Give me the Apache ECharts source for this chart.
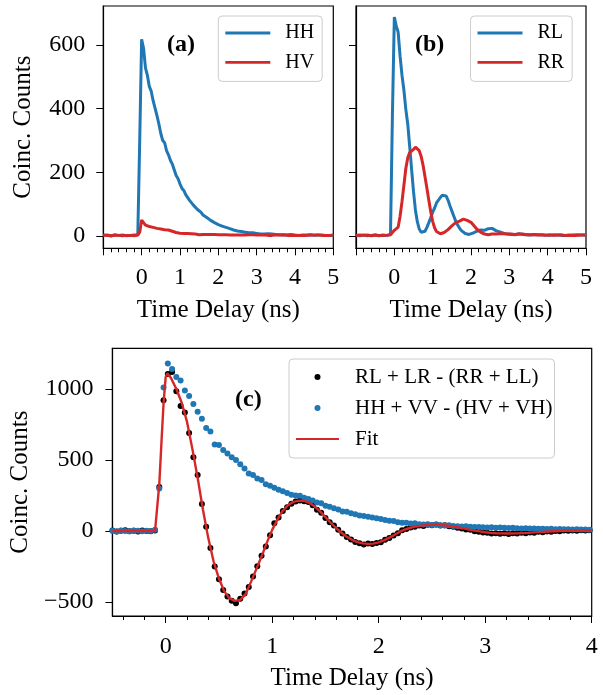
<!DOCTYPE html>
<html><head><meta charset="utf-8">
<script src="https://cdn.jsdelivr.net/npm/echarts@6/dist/echarts.min.js"></script>
<style>html,body{margin:0;padding:0;background:#fff}#c{width:603px;height:695px}</style>
</head><body><div id="c"></div>
<script>
// ---------- data (top panels: uniform time grid -1 .. 5 ns, step 0.05 ns) ----------
const tStartAB = -1, tStepAB = 0.05;
const hh = [3,1,2,4,0,2,3,1,2,0,3,2,1,4,2,1,3,2,4,300,
  618,590,528,505,470,455,425,402,378,352,322,300,293,268,255,238,226,208,190,180,
  164,150,143,130,124,112,108,97,92,84,78,74,66,62,58,52,49,44,42,38,
  36,35,31,29,27,25,23,22,19,18,16,17,14,13,12,13,10,9,10,8,
  8,7,6,8,6,5,7,5,6,4,5,6,4,5,3,5,4,3,5,4,3,4,2,4,3,5,3,2,4,3,2,4,3,2,3,4,2,3,2,3,2];
const hv = [2,1,3,2,1,2,3,1,2,2,1,3,2,1,2,3,1,2,3,12,
  50,46,34,28,30,25,27,23,24,21,22,19,20,22,19,17,15,13,11,10,
  9,10,8,7,8,6,7,
  5,6,5,4,6,5,4,5,3,5,4,5,3,4,5,4,3,4,5,3,4,3,4,3,5,3,4,3,2,4,
  3,4,2,3,4,3,2,3,4,2,3,2,4,3,2,3,2,4,3,2,3,2,3,2,4,2,3,2,3,2,
  2,3,2,3,2,3,2,2,3,2,3,2,2,3];
const rl = [2,3,1,2,3,2,1,3,2,2,3,1,2,3,2,1,2,3,5,380,
  688,660,640,565,505,458,398,352,282,210,140,82,45,22,12,9,15,27,42,58,
  75,88,104,110,121,128,134,126,113,95,79,63,47,35,25,17,11,8,6,5,
  7,9,12,15,16,19,21,18,22,23,20,24,19,17,16,13,10,9,7,6,
  6,5,6,4,5,7,4,5,3,4,5,3,4,5,3,4,2,4,3,3,4,2,3,4,2,3,3,2,4,2,3,3,2,3,2,4,2,3,2,3,2];
const rr = [2,1,3,2,2,1,3,2,1,2,3,2,1,2,3,1,2,2,4,9,
  18,13,28,62,108,160,212,246,262,266,272,279,280,268,250,222,186,150,112,76,
  46,26,14,9,7,8,11,14,20,26,32,38,42,45,47,50,53,54,49,47,
  43,36,29,22,16,12,8,6,5,4,5,6,7,6,8,7,9,7,8,6,
  7,6,8,5,7,6,4,6,5,4,5,4,3,5,4,3,4,3,4,2,3,4,3,2,3,3,2,4,3,2,3,2,3,2,3,2,2,3,2,3,2];

// ---------- data (panel c: uniform time grid -0.5 .. 3.98 ns, step 0.04 ns) ----------
const tStartC = -0.5, tStepC = 0.04;
const circDiff = [3,-4,2,5,-2,1,-3,4,0,-2,3,310,920,1105,1120,985,880,835,690,520,
  395,190,30,-120,-250,-340,-415,-462,-492,-508,-478,-440,-395,-320,-248,-175,-110,-30,55,95,
  140,168,192,208,215,210,205,182,150,128,92,62,38,8,-18,-42,-60,-78,-86,-95,
  -88,-92,-85,-80,-62,-50,-32,-15,5,14,25,30,38,36,44,40,45,38,40,33,
  30,22,18,10,8,-2,-5,-10,-12,-18,-15,-20,-16,-22,-15,-18,-12,-15,-10,-12,
  -6,-8,-3,-5,0,-2,3,1,4,2,5,3,6];
const linDiff = [2,-3,4,0,-2,3,1,-1,2,0,8,300,1010,1180,1140,1085,1060,990,950,895,
  840,790,725,700,610,605,570,545,520,500,470,440,405,395,370,360,330,318,305,290,
  280,268,255,250,248,235,225,215,200,195,178,170,160,152,138,135,125,118,110,105,
  100,95,90,85,78,72,70,62,58,58,52,55,48,46,48,42,44,40,38,40,
  35,34,32,33,30,28,29,26,25,27,23,24,22,21,22,20,18,19,17,18,
  15,16,14,15,13,14,12,13,11,12,10,11,9];
const fitT = [-0.5,-0.3,-0.1,-0.085,-0.06,-0.04,-0.02,0,0.015,0.03,0.05,0.1,0.15,0.2,0.25,0.3,0.35,0.4,0.45,0.5,
  0.55,0.6,0.65,0.7,0.75,0.8,0.85,0.9,0.95,1.0,1.05,1.1,1.15,1.2,1.25,1.3,1.35,1.4,1.45,1.5,
  1.55,1.6,1.65,1.7,1.75,1.8,1.85,1.9,1.95,2.0,2.05,2.1,2.15,2.2,2.25,2.3,2.35,2.4,2.45,2.5,
  2.55,2.6,2.65,2.7,2.75,2.8,2.85,2.9,2.95,3.0,3.05,3.1,3.15,3.2,3.3,3.4,3.5,3.6,3.7,3.8,3.9,4.0];
const fitV = [0,0,0,2,330,620,900,1085,1110,1100,1078,1000,905,770,580,375,150,-50,-215,-335,
  -425,-475,-492,-485,-445,-360,-270,-180,-82,8,82,143,183,205,214,212,198,172,138,98,
  58,21,-12,-40,-62,-78,-87,-91,-89,-80,-66,-47,-26,-5,11,23,32,38,42,43,
  43,41,37,32,25,18,10,3,-3,-9,-13,-16,-17,-18,-17,-13,-8,-4,0,3,4,5];

// ---------- tick values ----------
const xTicksAB = [0,1,2,3,4,5];
const yTicksAB = [0,200,400,600];
const xTicksC = [0,1,2,3,4];
const xMinorC = [-0.4,-0.2,0.2,0.4,0.6,0.8,1.2,1.4,1.6,1.8,2.2,2.4,2.6,2.8,3.2,3.4,3.6,3.8];
const yTicksC = [-500,0,500,1000];

const FONT = '"Liberation Serif", "Times New Roman", serif';
const BLUE = '#1f77b4', RED = '#d62728';
const LINE_ICON_AB = 'path://M0,0 L45,0 L45,2.8 L0,2.8 Z';
const LINE_ICON_C = 'path://M0,0 L43,0 L43,2.2 L0,2.2 Z';

function pairs(start, step, vals){ return vals.map((v,i)=>[+(start+i*step).toFixed(4), v]); }

const grids = [
  {left:103.3, top:6, width:230, height:242.3},
  {left:356, top:6, width:230, height:242.3},
  {left:106.7, top:348.3, width:485, height:267.7}
].map(g=>Object.assign(g,{show:true,borderColor:'#000',borderWidth:1.2,backgroundColor:'transparent',containLabel:false}));

const tickLbl = {color:'#000', fontFamily:FONT, fontSize:24};
const nameStyle = {color:'#000', fontFamily:FONT, fontSize:25};
const axLine = {show:true, onZero:false, lineStyle:{color:'#000', width:1.2}};

function xAB(gi){
  return {type:'value', gridIndex:gi, min:-1, max:5, interval:1,
    axisLine:axLine,
    axisTick:{show:true, length:7, lineStyle:{color:'#000', width:1}},
    minorTick:{show:true, splitNumber:5, length:4, lineStyle:{color:'#000', width:1}},
    axisLabel:Object.assign({margin:17, formatter:v=> (xTicksAB.indexOf(v)>=0 ? String(v) : '')}, tickLbl),
    splitLine:{show:false}, minorSplitLine:{show:false},
    name:'Time Delay (ns)', nameLocation:'middle', nameGap:50, nameTextStyle:nameStyle};
}
function yAB(gi, showLabel){
  const o = {type:'value', gridIndex:gi, min:-38.6, max:722.6,
    axisLine:axLine,
    axisTick:{show:true, length:7, lineStyle:{color:'#000', width:1}, customValues:yTicksAB},
    axisLabel:Object.assign({show:showLabel, margin:18, customValues:yTicksAB}, tickLbl),
    splitLine:{show:false}};
  if (showLabel){ Object.assign(o,{name:'Coinc. Counts', nameLocation:'middle', nameGap:67, nameTextStyle:nameStyle}); }
  return o;
}
const legendBase = {orient:'vertical', backgroundColor:'rgba(255,255,255,0.8)', borderColor:'#cccccc', borderWidth:1, borderRadius:4};

const option = {
  animation:false,
  backgroundColor:'#fff',
  grid: grids,
  xAxis: [
    xAB(0), xAB(1),
    {type:'value', gridIndex:2, min:-0.5, max:4, position:'bottom',
      axisLine:axLine,
      axisTick:{show:true, length:7, lineStyle:{color:'#000', width:1}, customValues:xTicksC},
      axisLabel:Object.assign({margin:19, customValues:xTicksC}, tickLbl),
      splitLine:{show:false},
      name:'Time Delay (ns)', nameLocation:'middle', nameGap:50, nameTextStyle:nameStyle},
    {type:'value', gridIndex:2, min:-0.5, max:4, position:'bottom',
      axisLine:{show:false, onZero:false},
      axisTick:{show:true, length:4, lineStyle:{color:'#000', width:1}, customValues:xMinorC},
      axisLabel:{show:false}, splitLine:{show:false}}
  ],
  yAxis: [
    yAB(0,true), yAB(1,false),
    {type:'value', gridIndex:2, min:-598.6, max:1286.6,
      axisLine:axLine,
      axisTick:{show:true, length:7, lineStyle:{color:'#000', width:1}, customValues:yTicksC},
      axisLabel:Object.assign({margin:19, customValues:yTicksC, formatter:v=>String(v).replace('-','\u2212')}, tickLbl),
      splitLine:{show:false},
      name:'Coinc. Counts', nameLocation:'middle', nameGap:69, nameTextStyle:nameStyle}
  ],
  legend: [
    Object.assign({data:[{name:'HH',icon:LINE_ICON_AB},{name:'HV',icon:LINE_ICON_AB}], left:218.3, top:16, padding:[6,8,8,7], itemGap:7.4,
      itemWidth:45, itemHeight:14,
      textStyle:{fontFamily:FONT, fontSize:20, lineHeight:22, color:'#000', padding:[0,0,0,10]}}, legendBase),
    Object.assign({data:[{name:'RL',icon:LINE_ICON_AB},{name:'RR',icon:LINE_ICON_AB}], left:470.5, top:16, padding:[6,8,8,7], itemGap:7.4,
      itemWidth:45, itemHeight:14,
      textStyle:{fontFamily:FONT, fontSize:20, lineHeight:22, color:'#000', padding:[0,0,0,10]}}, legendBase),
    Object.assign({data:[{name:'RL + LR - (RR + LL)',icon:'circle'},{name:'HH + VV - (HV + VH)',icon:'circle'},{name:'Fit',icon:LINE_ICON_C}],
      left:289, top:359, padding:[7,2,8,7], itemGap:9,
      itemWidth:43, itemHeight:6,
      textStyle:{fontFamily:FONT, fontSize:21, lineHeight:22, color:'#000', padding:[0,0,0,11]}}, legendBase)
  ],
  graphic: [
    {type:'text', left:167, top:33, style:{text:'(a)', font:'bold 24px '+FONT, fill:'#000'}},
    {type:'text', left:415, top:33, style:{text:'(b)', font:'bold 24px '+FONT, fill:'#000'}},
    {type:'text', left:235, top:388, style:{text:'(c)', font:'bold 24px '+FONT, fill:'#000'}}
  ],
  series: [
    {name:'HH', type:'line', xAxisIndex:0, yAxisIndex:0, data:pairs(tStartAB,tStepAB,hh), showSymbol:false, symbol:'none',
      lineStyle:{color:BLUE, width:3}, itemStyle:{color:BLUE}, z:2},
    {name:'HV', type:'line', xAxisIndex:0, yAxisIndex:0, data:pairs(tStartAB,tStepAB,hv), showSymbol:false, symbol:'none',
      lineStyle:{color:RED, width:3}, itemStyle:{color:RED}, z:3},
    {name:'RL', type:'line', xAxisIndex:1, yAxisIndex:1, data:pairs(tStartAB,tStepAB,rl), showSymbol:false, symbol:'none',
      lineStyle:{color:BLUE, width:3}, itemStyle:{color:BLUE}, z:2},
    {name:'RR', type:'line', xAxisIndex:1, yAxisIndex:1, data:pairs(tStartAB,tStepAB,rr), showSymbol:false, symbol:'none',
      lineStyle:{color:RED, width:3}, itemStyle:{color:RED}, z:3},
    {name:'RL + LR - (RR + LL)', type:'scatter', xAxisIndex:2, yAxisIndex:2, data:pairs(tStartC,tStepC,circDiff),
      symbol:'circle', symbolSize:6, itemStyle:{color:'#000', opacity:1}, z:2},
    {name:'HH + VV - (HV + VH)', type:'scatter', xAxisIndex:2, yAxisIndex:2, data:pairs(tStartC,tStepC,linDiff),
      symbol:'circle', symbolSize:6, itemStyle:{color:BLUE, opacity:1}, z:3},
    {name:'Fit', type:'line', xAxisIndex:2, yAxisIndex:2, data:fitT.map((t,i)=>[t,fitV[i]]), showSymbol:false, symbol:'none',
      lineStyle:{color:RED, width:2.4}, itemStyle:{color:RED}, z:4}
  ]
};
const chart = echarts.init(document.getElementById('c'), null, {renderer:'canvas'});
chart.setOption(option);
</script></body></html>
